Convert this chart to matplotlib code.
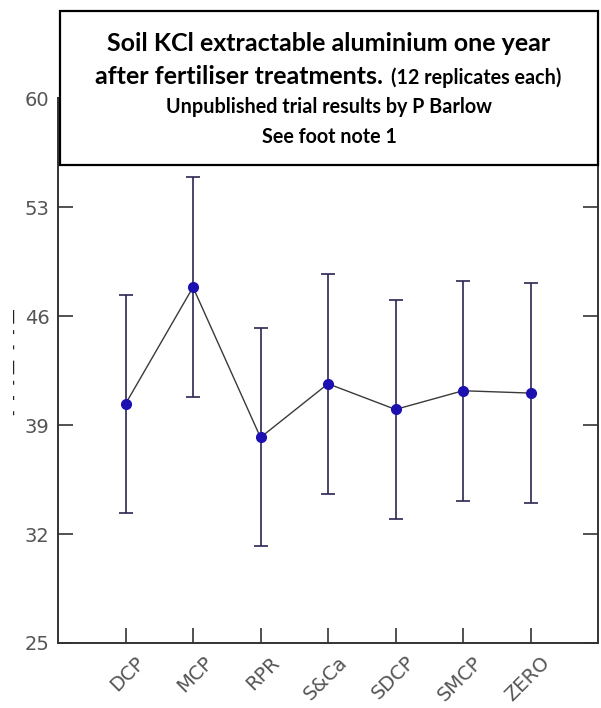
import matplotlib.pyplot as plt
import matplotlib.transforms as mtransforms
from matplotlib.patches import Rectangle

treatments = ["DCP", "MCP", "RPR", "S&Ca", "SDCP", "SMCP", "ZERO"]
means = [40.35, 47.85, 38.2, 41.65, 40.0, 41.2, 41.05]
errors = [7.0, 7.05, 7.0, 7.05, 7.03, 7.05, 7.07]
yticks = [25, 32, 39, 46, 53, 60]

W, H = 601, 708
fig = plt.figure(figsize=(W / 100, H / 100), dpi=100)
ax = fig.add_axes([58 / W, 1 - 643 / H, 540 / W, 545 / H])

x = range(len(treatments))
ax.plot(x, means, color="#3a3a3a", lw=1.0, zorder=2)
ax.errorbar(x, means, yerr=errors, fmt="none", ecolor="#2c2650",
            elinewidth=1.2, capsize=4.7, capthick=1.2, zorder=3)
ax.plot(x, means, "o", color="#1c10b0", markersize=7, zorder=4)

ax.set_xlim(-1, 7)
ax.set_ylim(25, 60)
ax.set_yticks(yticks)
ax.set_xticks(list(x))
ax.set_xticklabels(treatments, rotation=45, ha="right", va="top",
                   rotation_mode="anchor")
ax.tick_params(axis="both", direction="in", length=11, width=1.2,
               color="#333333", labelcolor="#555555", labelsize=14,
               right=True, pad=6)
ax.tick_params(axis="x", pad=7, labelsize=14)
shift = mtransforms.ScaledTranslation(7 / 72, 0, fig.dpi_scale_trans)
for lbl in ax.get_xticklabels():
    lbl.set_transform(lbl.get_transform() + shift)
for s in ax.spines.values():
    s.set_color("#333333")
    s.set_linewidth(1.4)

# faint clipped y label on the far left
fig.text(15 / W, 1 - 362 / H, "-  -  - —  -  - —", rotation=90,
         color="#222222", fontsize=11, ha="center", va="center")

# title box over the top of the plot
fig.patches.append(Rectangle((60 / W, 1 - 165 / H), 538 / W, 154 / H,
                             transform=fig.transFigure, facecolor="white",
                             edgecolor="black", lw=1.6, zorder=10))
kw = dict(fontfamily="Lato", fontweight="bold", color="black", zorder=11)
fig.text(329 / W, 1 - 51 / H, "Soil KCl extractable aluminium one year",
         fontsize=18, ha="center", va="baseline", **kw)
fig.text(383 / W, 1 - 84 / H, "after fertiliser treatments.",
         fontsize=18, ha="right", va="baseline", **kw)
fig.text(391 / W, 1 - 84 / H, "(12 replicates each)",
         fontsize=14.2, ha="left", va="baseline", **kw)
fig.text(329 / W, 1 - 113 / H, "Unpublished trial results by P Barlow",
         fontsize=14.2, ha="center", va="baseline", **kw)
fig.text(329 / W, 1 - 143 / H, "See foot note 1",
         fontsize=14.2, ha="center", va="baseline", **kw)

fig.savefig("out.png", dpi=100, facecolor="white")
